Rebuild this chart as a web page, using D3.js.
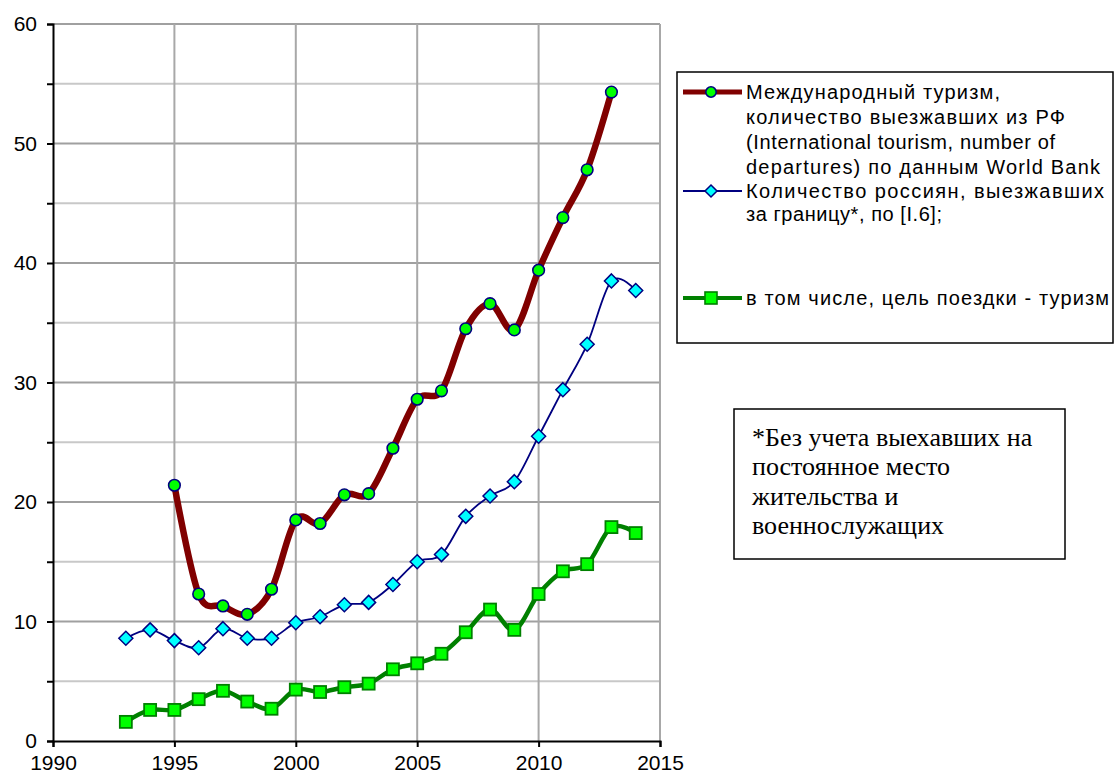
<!DOCTYPE html>
<html><head><meta charset="utf-8">
<script src="https://cdn.jsdelivr.net/npm/d3@7"></script>
<style>body{margin:0;background:#fff}svg{display:block}</style>
</head><body><svg id="c" width="1115" height="774"></svg>
<script>
const years = [1993,1994,1995,1996,1997,1998,1999,2000,2001,2002,2003,2004,2005,2006,2007,2008,2009,2010,2011,2012,2013,2014];
const wbYears = [1995,1996,1997,1998,1999,2000,2001,2002,2003,2004,2005,2006,2007,2008,2009,2010,2011,2012,2013];
const wbValues = [21.4,12.3,11.3,10.6,12.7,18.5,18.2,20.6,20.7,24.5,28.6,29.3,34.5,36.6,34.4,39.4,43.8,47.8,54.3];
const ruValues = [8.6,9.3,8.4,7.8,9.4,8.6,8.6,9.9,10.4,11.4,11.6,13.1,15.0,15.6,18.8,20.5,21.7,25.5,29.4,33.2,38.5,37.7];
const tourValues = [1.6,2.6,2.6,3.5,4.2,3.3,2.7,4.3,4.1,4.5,4.8,6.0,6.5,7.3,9.1,11.0,9.3,12.3,14.2,14.8,17.9,17.4];
const yTicks = [0,10,20,30,40,50,60];
const xTicks = [1990,1995,2000,2005,2010,2015];
const legendLabels = [
  ["Международный туризм,","количество выезжавших из РФ","(International tourism, number of","departures) по данным World Bank"],
  ["Количество россиян, выезжавших","за границу*, по [I.6];"],
  ["в том числе, цель поездки - туризм"]
];
const noteLines = ["*Без учета выехавших на","постоянное место","жительства и","военнослужащих"];

const svg = d3.select("#c");
const x = d3.scaleLinear().domain([1990,2015]).range([53,660]);
const y = d3.scaleLinear().domain([0,60]).range([741,24]);
const sans = "Liberation Sans, Arial, sans-serif";

// gridlines
const g = svg.append("g");
d3.range(5,60,10).forEach(v=>{
  g.append("line").attr("x1",x(1990)).attr("x2",x(2015)).attr("y1",y(v)).attr("y2",y(v))
   .attr("stroke","#c8c8c8").attr("stroke-width",2);
});
yTicks.filter(v=>v>0).forEach(v=>{
  g.append("line").attr("x1",x(1990)).attr("x2",x(2015)).attr("y1",y(v)).attr("y2",y(v))
   .attr("stroke","#a0a0a0").attr("stroke-width",2);
});
xTicks.filter(v=>v>1990).forEach(v=>{
  g.append("line").attr("x1",x(v)).attr("x2",x(v)).attr("y1",y(0)).attr("y2",y(60))
   .attr("stroke","#a8a8a8").attr("stroke-width",2);
});

// axes
const yAxis = d3.axisLeft(y).tickValues(d3.range(0,61,5)).tickSize(6)
  .tickFormat(d=> d%10===0 ? d : "");
const ya = svg.append("g").attr("transform",`translate(${x(1990)},0)`).call(yAxis);
ya.select(".domain").attr("stroke","#000").attr("stroke-width",2);
ya.selectAll(".tick line").attr("stroke","#000").attr("stroke-width",2);
ya.selectAll("text").attr("font-family",sans).attr("font-size",21).attr("fill","#000").attr("x",-16);

const xAxis = d3.axisBottom(x).tickValues(xTicks).tickSize(6).tickFormat(d3.format("d"));
const xa = svg.append("g").attr("transform",`translate(0,${y(0)})`).call(xAxis);
xa.select(".domain").attr("stroke","#000").attr("stroke-width",2);
xa.selectAll(".tick line").attr("stroke","#000").attr("stroke-width",2);
xa.selectAll("text").attr("font-family",sans).attr("font-size",21).attr("fill","#000").attr("y",14);

const curve = d3.curveCatmullRom.alpha(0);
const line = d3.line().x(d=>x(d[0])).y(d=>y(d[1])).curve(curve);

const wb = wbYears.map((yr,i)=>[yr,wbValues[i]]);
const ru = years.map((yr,i)=>[yr,ruValues[i]]);
const tr = years.map((yr,i)=>[yr,tourValues[i]]);

// green series
svg.append("path").attr("d",line(tr)).attr("fill","none").attr("stroke","#008000").attr("stroke-width",4.5);
svg.selectAll(".sq").data(tr).enter().append("rect")
  .attr("x",d=>x(d[0])-6).attr("y",d=>y(d[1])-6).attr("width",12).attr("height",12)
  .attr("fill","#00ff00").attr("stroke","#008000").attr("stroke-width",1.8);

// blue series
svg.append("path").attr("d",line(ru)).attr("fill","none").attr("stroke","#000080").attr("stroke-width",1.8);
const diamond = (cx,cy,r)=>`M${cx},${cy-r}L${cx+r},${cy}L${cx},${cy+r}L${cx-r},${cy}Z`;
svg.selectAll(".dm").data(ru).enter().append("path")
  .attr("d",d=>diamond(x(d[0]),y(d[1]),7))
  .attr("fill","#00ffff").attr("stroke","#000080").attr("stroke-width",1.5);

// red series
svg.append("path").attr("d",line(wb)).attr("fill","none").attr("stroke","#800000").attr("stroke-width",6.5);
svg.selectAll(".ci").data(wb).enter().append("circle")
  .attr("cx",d=>x(d[0])).attr("cy",d=>y(d[1])).attr("r",5.8)
  .attr("fill","#00ff00").attr("stroke","#000080").attr("stroke-width",1.6);

// legend
svg.append("rect").attr("x",677).attr("y",72).attr("width",436).attr("height",271)
  .attr("fill","#fff").attr("stroke","#000").attr("stroke-width",1.5);
const lg = svg.append("g").attr("font-family",sans).attr("font-size",20).attr("fill","#000");
const legendY = [92,191,298];
const lineH = [25,23,25];
const lineEnds = [[1000,1065,1055,1100],[1104,942],[1109]];
// entry 1
lg.append("line").attr("x1",683).attr("x2",742).attr("y1",legendY[0]).attr("y2",legendY[0]).attr("stroke","#800000").attr("stroke-width",5);
lg.append("circle").attr("cx",711).attr("cy",legendY[0]).attr("r",5.2).attr("fill","#00ff00").attr("stroke","#000080").attr("stroke-width",1.6);
// entry 2
lg.append("line").attr("x1",683).attr("x2",742).attr("y1",legendY[1]).attr("y2",legendY[1]).attr("stroke","#000080").attr("stroke-width",1.8);
lg.append("path").attr("d",diamond(711,legendY[1],6)).attr("fill","#00ffff").attr("stroke","#000080").attr("stroke-width",1.5);
// entry 3
lg.append("line").attr("x1",683).attr("x2",742).attr("y1",legendY[2]).attr("y2",legendY[2]).attr("stroke","#008000").attr("stroke-width",4);
lg.append("rect").attr("x",705).attr("y",legendY[2]-6).attr("width",12).attr("height",12).attr("fill","#00ff00").attr("stroke","#008000").attr("stroke-width",1.6);
legendLabels.forEach((lines,i)=>{
  lines.forEach((t,j)=>{
    lg.append("text").attr("x",746).attr("y",legendY[i]+j*lineH[i]).attr("dy","0.35em")
      .attr("textLength",lineEnds[i][j]-746).attr("lengthAdjust","spacing").text(t);
  });
});

// note box
svg.append("rect").attr("x",734).attr("y",409).attr("width",331).attr("height",150)
  .attr("fill","#fff").attr("stroke","#000").attr("stroke-width",1.5);
const ng = svg.append("g").attr("font-family","Liberation Serif, Times New Roman, serif").attr("font-size",26).attr("fill","#000");
noteLines.forEach((t,i)=>{
  ng.append("text").attr("x",752).attr("y",437+i*29.5).attr("dy","0.33em").text(t);
});
</script></body></html>
